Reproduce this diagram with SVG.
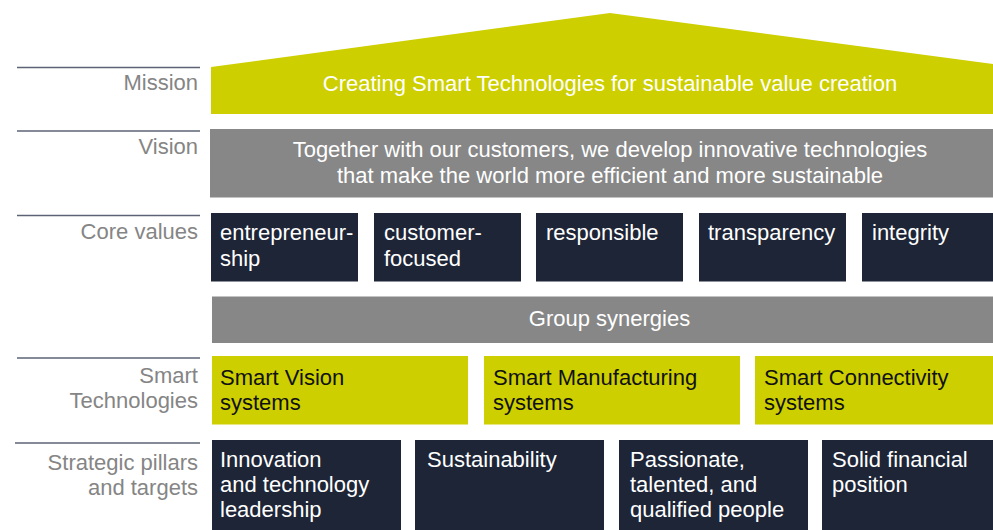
<svg xmlns="http://www.w3.org/2000/svg" width="993" height="530" viewBox="0 0 993 530">
  <style>
    text { font-family: "Liberation Sans", Arial, Helvetica, sans-serif; font-size: 22px; }
    .label { fill: #858585; text-anchor: end; }
    .rule { stroke: #5d6376; stroke-width: 1.4; fill: none; }
    .lime { fill: #cdcf00; }
    .grey { fill: #878787; }
    .navy { fill: #1e2537; }
    .white { fill: #ffffff; }
    .dark { fill: #111111; }
    .mid { text-anchor: middle; }
  </style>

  <!-- row labels with rules -->
  <g id="row-labels">
    <line class="rule" x1="17" y1="67.5" x2="200" y2="67.5"/>
    <text class="label" x="198" y="90">Mission</text>
    <line class="rule" x1="17" y1="131" x2="200" y2="131"/>
    <text class="label" x="198" y="154">Vision</text>
    <line class="rule" x1="17" y1="215.5" x2="200" y2="215.5"/>
    <text class="label" x="198" y="239">Core values</text>
    <line class="rule" x1="17" y1="358" x2="200" y2="358"/>
    <text class="label" x="198" y="383">Smart</text>
    <text class="label" x="198" y="408">Technologies</text>
    <line class="rule" x1="15" y1="443" x2="200" y2="443"/>
    <text class="label" x="198" y="470">Strategic pillars</text>
    <text class="label" x="198" y="495">and targets</text>
  </g>

  <!-- roof: mission -->
  <g id="mission">
    <polygon class="lime" points="211,67 610,13 993,64 993,114 211,114"/>
    <text class="white mid" x="610" y="90.5">Creating Smart Technologies for sustainable value creation</text>
  </g>

  <!-- vision -->
  <g id="vision">
    <rect class="grey" x="210" y="129" width="783" height="68.5"/>
    <text class="white mid" x="610" y="157">Together with our customers, we develop innovative technologies</text>
    <text class="white mid" x="610" y="183">that make the world more efficient and more sustainable</text>
  </g>

  <!-- core values -->
  <g id="value-entrepreneurship">
    <rect class="navy" x="211" y="213" width="147" height="68.5"/>
    <text class="white" x="220" y="240">entrepreneur-</text>
    <text class="white" x="220" y="265.5">ship</text>
  </g>
  <g id="value-customer-focused">
    <rect class="navy" x="374" y="213" width="147" height="68.5"/>
    <text class="white" x="384" y="240">customer-</text>
    <text class="white" x="384" y="265.5">focused</text>
  </g>
  <g id="value-responsible">
    <rect class="navy" x="536" y="213" width="147" height="68.5"/>
    <text class="white" x="546" y="240">responsible</text>
  </g>
  <g id="value-transparency">
    <rect class="navy" x="699" y="213" width="147" height="68.5"/>
    <text class="white" x="708" y="240">transparency</text>
  </g>
  <g id="value-integrity">
    <rect class="navy" x="862" y="213" width="131" height="68.5"/>
    <text class="white" x="872" y="240">integrity</text>
  </g>

  <!-- group synergies -->
  <g id="group-synergies">
    <rect class="grey" x="212" y="296.5" width="781" height="46.5"/>
    <text class="white mid" x="609.5" y="326">Group synergies</text>
  </g>

  <!-- smart technologies -->
  <g id="smart-vision">
    <rect class="lime" x="212" y="356" width="256" height="68.5"/>
    <text class="dark" x="220" y="385">Smart Vision</text>
    <text class="dark" x="220" y="410">systems</text>
  </g>
  <g id="smart-manufacturing">
    <rect class="lime" x="484" y="356" width="256" height="68.5"/>
    <text class="dark" x="493" y="385">Smart Manufacturing</text>
    <text class="dark" x="493" y="410">systems</text>
  </g>
  <g id="smart-connectivity">
    <rect class="lime" x="755" y="356" width="238" height="68.5"/>
    <text class="dark" x="764" y="385">Smart Connectivity</text>
    <text class="dark" x="764" y="410">systems</text>
  </g>

  <!-- strategic pillars -->
  <g id="pillar-innovation">
    <rect class="navy" x="212" y="440" width="189" height="90"/>
    <text class="white" x="220" y="467">Innovation</text>
    <text class="white" x="220" y="492">and technology</text>
    <text class="white" x="220" y="517">leadership</text>
  </g>
  <g id="pillar-sustainability">
    <rect class="navy" x="415" y="440" width="189" height="90"/>
    <text class="white" x="427" y="467">Sustainability</text>
  </g>
  <g id="pillar-people">
    <rect class="navy" x="619" y="440" width="189" height="90"/>
    <text class="white" x="630" y="467">Passionate,</text>
    <text class="white" x="630" y="492">talented, and</text>
    <text class="white" x="630" y="517">qualified people</text>
  </g>
  <g id="pillar-financial">
    <rect class="navy" x="822" y="440" width="171" height="90"/>
    <text class="white" x="832" y="467">Solid financial</text>
    <text class="white" x="832" y="492">position</text>
  </g>

  <!-- no connectors in this layout -->
  <g id="connectors"/>
</svg>
